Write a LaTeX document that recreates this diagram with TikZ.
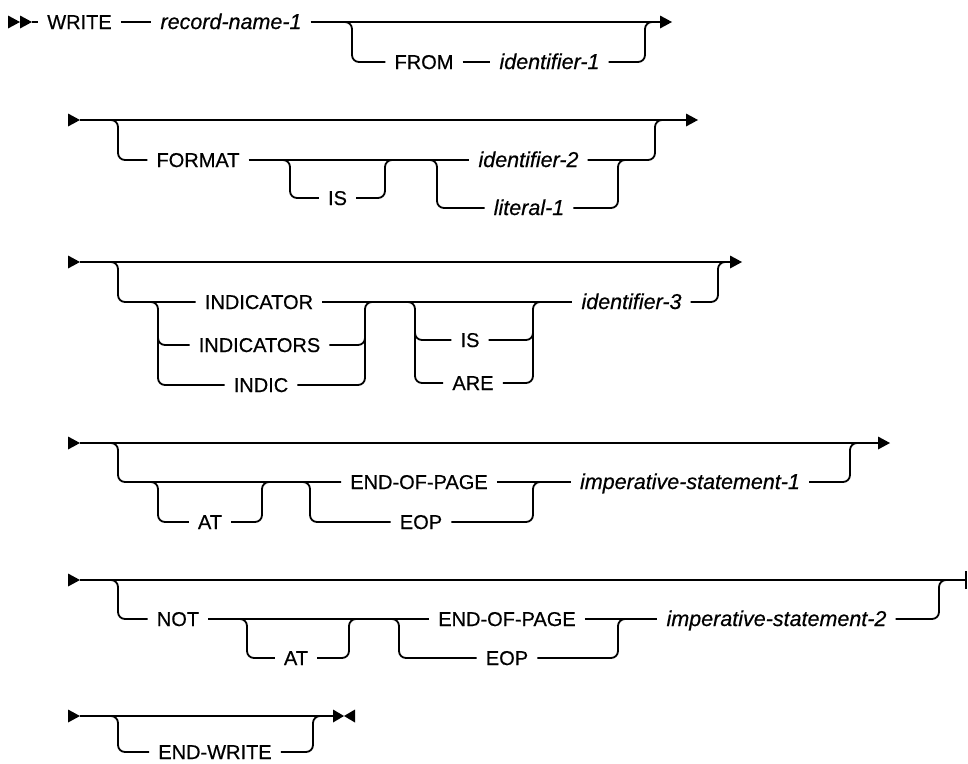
\documentclass[tikz,border=0pt]{standalone}
\usepackage{fontspec}
\setmainfont{Liberation Sans}[FakeBold=0.5]
\begin{document}
\begin{tikzpicture}[x=1pt,y=-1pt,
  rail/.style={line width=1.8pt, rounded corners=7pt},
  bar/.style={line width=1.8pt},
  kw/.style={font=\fontsize{20}{24}\selectfont, inner xsep=9pt, inner ysep=0pt, text height=14pt, text depth=0pt},
  var/.style={kw, font=\fontsize{21.5}{24}\selectfont\itshape},
  rhead/.style={fill=black}]
\useasboundingbox (0,0) rectangle (968,763);
% ---------- row 1 ----------
\coordinate (s1) at (32,22);
\coordinate (s1a) at (20,22);
\coordinate (e1) at (672,22);
\node[kw] (write) at (79.5,22) {WRITE};
\node[var] (rec) at (231,22) {record-name-1};
\node[kw] (from) at (424,62) {FROM};
\node[var] (id1) at (549.5,62) {identifier-1};
\fill[rhead] (s1) -- ++(-12,-6.5) -- ++(0,13) -- cycle;
\fill[rhead] (s1a) -- ++(-12,-6.5) -- ++(0,13) -- cycle;
\draw[rail] (s1) -- (write.west);
\draw[rail] (write.east) -- (rec.west);
\draw[rail] (rec.east) -- ([xshift=-6pt]e1);
\draw[rail] (340,22) -- (352,22) -- (352,62) -- (from.west);
\draw[rail] (from.east) -- (id1.west);
\draw[rail] (id1.east) -- (645,62) -- (645,22) -- (655,22);
\fill[rhead] (e1) -- ++(-12,-6.5) -- ++(0,13) -- cycle;
% ---------- row 2 ----------
\coordinate (s2) at (80,120);
\coordinate (e2) at (698,120);
\node[kw] (format) at (198,160) {FORMAT};
\node[kw] (is1) at (337.5,198) {IS};
\node[var] (id2) at (528.5,160) {identifier-2};
\node[var] (lit1) at (529,208) {literal-1};
\fill[rhead] (s2) -- ++(-12,-6.5) -- ++(0,13) -- cycle;
\draw[rail] (s2) -- ([xshift=-6pt]e2);
\fill[rhead] (e2) -- ++(-12,-6.5) -- ++(0,13) -- cycle;
\draw[rail] (108,120) -- (118,120) -- (118,160) -- (format.west);
\draw[rail] (format.east) -- (id2.west);
\draw[rail] (280,160) -- (290,160) -- (290,198) -- (is1.west);
\draw[rail] (is1.east) -- (385,198) -- (385,160) -- (395,160);
\draw[rail] (427,160) -- (437,160) -- (437,208) -- (lit1.west);
\draw[rail] (lit1.east) -- (618,208) -- (618,160) -- (628,160);
\draw[rail] (id2.east) -- (655,160) -- (655,120) -- (665,120);
% ---------- row 3 ----------
\coordinate (s3) at (80,262);
\coordinate (e3) at (742,262);
\node[kw] (ind1) at (259,302) {INDICATOR};
\node[kw] (ind2) at (259.5,345) {INDICATORS};
\node[kw] (ind3) at (261,385) {INDIC};
\node[kw] (is2) at (470,340) {IS};
\node[kw] (are) at (473,383) {ARE};
\node[var] (id3) at (631.5,302) {identifier-3};
\fill[rhead] (s3) -- ++(-12,-6.5) -- ++(0,13) -- cycle;
\draw[rail] (s3) -- ([xshift=-6pt]e3);
\fill[rhead] (e3) -- ++(-12,-6.5) -- ++(0,13) -- cycle;
\draw[rail] (108,262) -- (118,262) -- (118,302) -- (ind1.west);
\draw[rail] (148,302) -- (158,302) -- (158,385) -- (ind3.west);
\draw[rail] (158,335) -- (158,345) -- (ind2.west);
\draw[rail] (ind3.east) -- (365,385) -- (365,302) -- (375,302);
\draw[rail] (ind2.east) -- (365,345) -- (365,335);
\draw[rail] (ind1.east) -- (id3.west);
\draw[rail] (405,302) -- (415,302) -- (415,383) -- (are.west);
\draw[rail] (415,330) -- (415,340) -- (is2.west);
\draw[rail] (are.east) -- (533,383) -- (533,302) -- (543,302);
\draw[rail] (is2.east) -- (533,340) -- (533,330);
\draw[rail] (id3.east) -- (718,302) -- (718,262) -- (728,262);
% ---------- row 4 ----------
\coordinate (s4) at (80,443);
\coordinate (e4) at (890,443);
\node[kw] (at1) at (210,522) {AT};
\node[kw] (eopg1) at (419,482) {END-OF-PAGE};
\node[kw] (eop1) at (421,522) {EOP};
\node[var] (imp1) at (690,482) {imperative-statement-1};
\fill[rhead] (s4) -- ++(-12,-6.5) -- ++(0,13) -- cycle;
\draw[rail] (s4) -- ([xshift=-6pt]e4);
\fill[rhead] (e4) -- ++(-12,-6.5) -- ++(0,13) -- cycle;
\draw[rail] (108,443) -- (118,443) -- (118,482) -- (eopg1.west);
\draw[rail] (148,482) -- (158,482) -- (158,522) -- (at1.west);
\draw[rail] (at1.east) -- (262,522) -- (262,482) -- (272,482);
\draw[rail] (300,482) -- (310,482) -- (310,522) -- (eop1.west);
\draw[rail] (eop1.east) -- (533,522) -- (533,482) -- (543,482);
\draw[rail] (eopg1.east) -- (imp1.west);
\draw[rail] (imp1.east) -- (850,482) -- (850,443) -- (860,443);
% ---------- row 5 ----------
\coordinate (s5) at (80,580);
\coordinate (e5) at (966,580);
\node[kw] (not) at (178,619) {NOT};
\node[kw] (at2) at (296,658) {AT};
\node[kw] (eopg2) at (507,619) {END-OF-PAGE};
\node[kw] (eop2) at (507,658) {EOP};
\node[var] (imp2) at (776.5,619) {imperative-statement-2};
\fill[rhead] (s5) -- ++(-12,-6.5) -- ++(0,13) -- cycle;
\draw[rail] (s5) -- (e5);
\draw[bar] ([yshift=-9pt]e5) -- ([yshift=9pt]e5);
\draw[rail] (108,580) -- (118,580) -- (118,619) -- (not.west);
\draw[rail] (not.east) -- (eopg2.west);
\draw[rail] (237,619) -- (247,619) -- (247,658) -- (at2.west);
\draw[rail] (at2.east) -- (349,658) -- (349,619) -- (359,619);
\draw[rail] (389,619) -- (399,619) -- (399,658) -- (eop2.west);
\draw[rail] (eop2.east) -- (618,658) -- (618,619) -- (628,619);
\draw[rail] (eopg2.east) -- (imp2.west);
\draw[rail] (imp2.east) -- (939,619) -- (939,580) -- (949,580);
% ---------- row 6 ----------
\coordinate (s6) at (80,716);
\coordinate (e6) at (333,716);
\coordinate (e6b) at (355,716);
\node[kw] (endw) at (215,752) {END-WRITE};
\fill[rhead] (s6) -- ++(-12,-6.5) -- ++(0,13) -- cycle;
\draw[rail] (s6) -- (e6);
\fill[rhead] (e6) -- ++(0,-6.5) -- ++(11,6.5) -- ++(-11,6.5) -- cycle;
\fill[rhead] (e6b) -- ++(0,-6.5) -- ++(-11,6.5) -- ++(11,6.5) -- cycle;
\draw[rail] (108,716) -- (118,716) -- (118,752) -- (endw.west);
\draw[rail] (endw.east) -- (313,752) -- (313,716) -- (323,716);
\end{tikzpicture}
\end{document}
